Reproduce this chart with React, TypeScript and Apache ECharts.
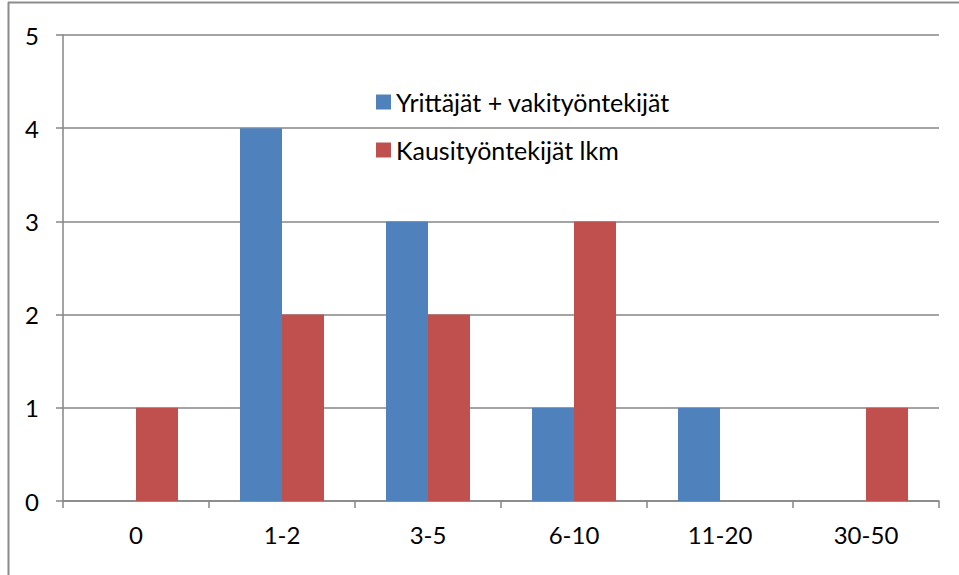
import React, { useEffect, useRef } from "react";
import * as echarts from "echarts";

const categories = ["0", "1-2", "3-5", "6-10", "11-20", "30-50"];
const seriesNames = ["Yrittäjät + vakityöntekijät", "Kausityöntekijät lkm"];
const ownersAndPermanent = [0, 4, 3, 1, 1, 0];
const seasonalWorkers = [1, 2, 2, 3, 0, 1];
const yTicks = { min: 0, max: 5, interval: 1 };

const FONT = "Lato";
const FS = 24;
const AXIS_COLOR = "#868686";

export default function App() {
  const ref = useRef<HTMLDivElement>(null);
  useEffect(() => {
    if (!ref.current) return;
    const chart = echarts.init(ref.current, undefined, { renderer: "svg" });
    const legendBase = {
      orient: "vertical",
      left: 376,
      itemWidth: 15,
      itemHeight: 15,
      icon: "rect",
      padding: 0,
      textStyle: { fontFamily: FONT, fontSize: 25, color: "#000", lineHeight: 24, padding: [0, 0, 0, 0] },
    };
    chart.setOption({
      animation: false,
      backgroundColor: "#ffffff",
      textStyle: { fontFamily: FONT },
      grid: { left: 63, top: 35, right: 20, bottom: 74, containLabel: false },
      legend: [
        { ...legendBase, top: 89.5, data: [seriesNames[0]] },
        { ...legendBase, top: 137.5, data: [seriesNames[1]] },
      ],
      xAxis: {
        type: "category",
        data: categories,
        axisLine: { show: true, lineStyle: { color: AXIS_COLOR, width: 1.5 } },
        axisTick: { show: true, length: 7, alignWithLabel: false, lineStyle: { color: AXIS_COLOR, width: 1.5 } },
        axisLabel: { fontFamily: FONT, fontSize: FS, color: "#000", margin: 21 },
        splitLine: { show: false },
      },
      yAxis: {
        type: "value",
        min: yTicks.min,
        max: yTicks.max,
        interval: yTicks.interval,
        axisLine: { show: true, lineStyle: { color: AXIS_COLOR, width: 1.5 } },
        axisTick: { show: true, length: 7, lineStyle: { color: AXIS_COLOR, width: 1.5 } },
        axisLabel: { fontFamily: FONT, fontSize: FS, color: "#000", margin: 24 },
        splitLine: { show: true, lineStyle: { color: AXIS_COLOR, width: 1.5 } },
      },
      series: [
        {
          name: seriesNames[0],
          type: "bar",
          data: ownersAndPermanent,
          barWidth: 42,
          barGap: "0%",
          itemStyle: { color: "#4F81BD" },
        },
        {
          name: seriesNames[1],
          type: "bar",
          data: seasonalWorkers,
          barWidth: 42,
          barGap: "0%",
          itemStyle: { color: "#C0504D" },
        },
      ],
      graphic: [
        { type: "line", shape: { x1: 8, y1: 2.5, x2: 959, y2: 2.5 }, style: { stroke: "#8c8c8c", lineWidth: 2 } },
        { type: "line", shape: { x1: 8.5, y1: 2, x2: 8.5, y2: 575 }, style: { stroke: "#8c8c8c", lineWidth: 2 } },
      ],
    });
    return () => chart.dispose();
  }, []);
  return (
    <div
      ref={ref}
      style={{ position: "fixed", left: 0, top: 0, width: 959, height: 575 }}
    />
  );
}
